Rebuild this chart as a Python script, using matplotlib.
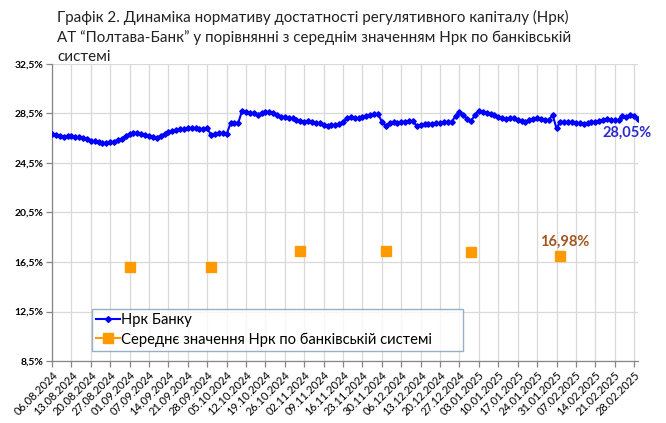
import matplotlib
matplotlib.use("Agg")
import matplotlib.pyplot as plt
import numpy as np
from matplotlib.lines import Line2D

# ---- data ----
tick_labels = ["06.08.2024", "13.08.2024", "20.08.2024", "27.08.2024", "01.09.2024",
               "07.09.2024", "14.09.2024", "21.09.2024", "28.09.2024", "05.10.2024",
               "12.10.2024", "19.10.2024", "26.10.2024", "02.11.2024", "09.11.2024",
               "16.11.2024", "23.11.2024", "30.11.2024", "06.12.2024", "13.12.2024",
               "20.12.2024", "27.12.2024", "03.01.2025", "10.01.2025", "17.01.2025",
               "24.01.2025", "31.01.2025", "07.02.2025", "14.02.2025", "21.02.2025",
               "28.02.2025"]
label_step = 5  # one label every 5 observations

bank_nrk = [
    26.85, 26.78, 26.70, 26.63, 26.68, 26.66, 26.62, 26.58, 26.52, 26.42,
    26.30, 26.25, 26.20, 26.14, 26.12, 26.17, 26.22, 26.36, 26.45, 26.70,
    26.85, 26.95, 26.92, 26.83, 26.76, 26.68, 26.58, 26.55, 26.72, 26.85,
    27.00, 27.10, 27.15, 27.22, 27.25, 27.30, 27.33, 27.30, 27.22, 27.28,
    27.30, 26.76, 26.85, 26.95, 26.90, 26.84, 27.70, 27.72, 27.76, 28.73,
    28.62, 28.57, 28.50, 28.36, 28.55, 28.65, 28.62, 28.57, 28.40, 28.24,
    28.20, 28.15, 28.11, 28.00, 27.88, 27.84, 27.86, 27.78, 27.70, 27.72,
    27.60, 27.52, 27.55, 27.60, 27.65, 27.84, 28.10, 28.24, 28.15, 28.11,
    28.20, 28.30, 28.38, 28.45, 28.46, 27.84, 27.50, 27.76, 27.78, 27.76,
    27.80, 27.85, 27.90, 27.88, 27.49, 27.58, 27.62, 27.65, 27.68, 27.70,
    27.72, 27.78, 27.80, 27.84, 28.30, 28.60, 28.40, 28.05, 27.90, 28.40,
    28.73, 28.62, 28.50, 28.45, 28.38, 28.24, 28.11, 28.05, 28.12, 28.11,
    28.00, 27.90, 27.84, 27.95, 28.05, 28.11, 28.05, 28.00, 27.97, 28.38,
    27.30, 27.84, 27.80, 27.82, 27.78, 27.76, 27.70, 27.65, 27.72, 27.80,
    27.84, 27.90, 27.95, 28.03, 28.00, 27.97, 27.97, 28.30, 28.25, 28.38,
    28.30, 28.05,
]

avg_positions = [20, 41, 64, 86, 108, 131]
avg_nrk = [16.10, 16.10, 17.40, 17.40, 17.30, 16.98]

yticks = [8.5, 12.5, 16.5, 20.5, 24.5, 28.5, 32.5]

title = ("Графік 2. Динаміка нормативу достатності регулятивного капіталу (Нрк)\n"
         "АТ “Полтава-Банк” у порівнянні з середнім значенням Нрк по банківській\n"
         "системі")
series_names = ["Нрк Банку", "Середнє значення Нрк по банківській системі"]

# ---- plot ----
FONT = ["Lato", "DejaVu Sans"]
plt.rcParams["font.family"] = FONT

fig = plt.figure(figsize=(6.66, 4.23), dpi=100)
ax = fig.add_axes([52/666, 1-361/423, 586/666, 297/423])

x = np.arange(len(bank_nrk))
blue = "#0000FF"
orange = "#FF9900"

ax.plot(x, bank_nrk, color=blue, lw=1.5, marker="D", ms=2.8, mec=blue, mfc=blue, zorder=3)
ax.plot(avg_positions, avg_nrk, ls="none", marker="s", ms=6.5, color=orange, zorder=3)

ax.set_xlim(0, len(bank_nrk) - 1)
ax.set_ylim(yticks[0], yticks[-1])
ax.set_yticks(yticks)
ax.set_yticklabels([f"{v:.1f}%".replace(".", ",") for v in yticks],
                   fontsize=7.5, fontweight="bold")
xt = np.arange(0, len(tick_labels) * label_step, label_step)
ax.set_xticks(xt)
ax.set_xticklabels(tick_labels, rotation=45, ha="right", rotation_mode="anchor",
                   fontsize=8)

ax.grid(True, color="#D9D9D9", lw=0.9)
ax.set_axisbelow(True)
for s in ["top", "right"]:
    ax.spines[s].set_visible(False)
for s in ["left", "bottom"]:
    ax.spines[s].set_color("#868686")
    ax.spines[s].set_linewidth(0.9)
ax.tick_params(axis="both", color="#868686", length=4, width=0.9, pad=2)

# data labels
ax.annotate(f"{bank_nrk[-1]:.2f}%".replace(".", ","), (x[-1], bank_nrk[-1]),
            xytext=(-7.5, -10), textcoords="offset points", ha="center", va="center",
            fontsize=10.5, fontweight="bold", color="#2A2ACF", annotation_clip=False)
ax.annotate(f"{avg_nrk[-1]:.2f}%".replace(".", ","), (avg_positions[-1], avg_nrk[-1]),
            xytext=(3, 10), textcoords="offset points", ha="center", va="center",
            fontsize=10.5, fontweight="bold", color="#A0561E")

# legend
handles = [Line2D([], [], color=blue, lw=1.5, marker="D", ms=3),
           Line2D([], [], color=orange, lw=1.5, marker="s", ms=6.5)]
leg = ax.legend(handles, series_names, loc="lower left",
                bbox_to_anchor=(40/586, 10/297, 371/586, 43/297), mode="expand",
                fontsize=10.6, frameon=True, fancybox=False, borderaxespad=0,
                handlelength=1.6, handletextpad=0.1, labelspacing=0.35,
                borderpad=0.3)
leg.get_frame().set_edgecolor("#7F9DB9")
leg.get_frame().set_linewidth(1.0)

fig.text(57/666, 1-10/423, title, ha="left", va="top", fontsize=10.9,
         linespacing=1.42, color="#222222")

fig.savefig("out.png", dpi=100)
